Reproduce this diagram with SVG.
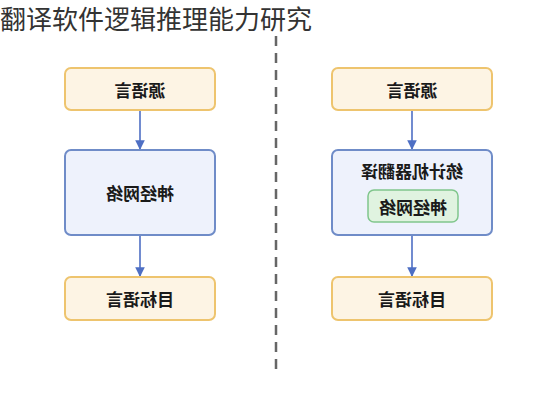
<svg xmlns="http://www.w3.org/2000/svg" width="560" height="400" viewBox="0 0 560 400">
<defs>
<style>
.t{font-family:"Noto Sans CJK SC","Noto Sans",sans-serif;font-size:17px;font-weight:bold;fill:#1a1a1a;text-anchor:middle;dominant-baseline:central}
.lang{fill:#fdf4e4;stroke:#eec46e;stroke-width:2}
.core{fill:#eef2fc;stroke:#6f8cc8;stroke-width:2}
.nn{fill:#e0f3e0;stroke:#80c68c;stroke-width:1.5}
.c{stroke:#4e6fc4;stroke-width:1.6;fill:none}
</style>
<marker id="ah" viewBox="0 0 10 10" refX="9" refY="5" markerWidth="6" markerHeight="6" orient="auto"><path d="M0,0 L10,5 L0,10 z" fill="#4e6fc4"/></marker>
</defs>
<rect width="560" height="400" fill="#fff"/>
<text x="0" y="29" font-family="Noto Sans CJK SC,sans-serif" font-size="26" fill="#333">翻译软件逻辑推理能力研究</text>
<line x1="276" y1="36" x2="276" y2="374" stroke="#666" stroke-width="2.5" stroke-dasharray="10,7"/>
<g id="connectors">
<line class="c" x1="140" y1="110" x2="140" y2="149" marker-end="url(#ah)"/>
<line class="c" x1="140" y1="235" x2="140" y2="276" marker-end="url(#ah)"/>
<line class="c" x1="412" y1="110" x2="412" y2="149" marker-end="url(#ah)"/>
<line class="c" x1="412" y1="235" x2="412" y2="276" marker-end="url(#ah)"/>
</g>
<g id="left-src"><rect class="lang" x="65" y="68" width="150" height="42" rx="6"/><text class="t" transform="translate(140,89) scale(-1,1)">源语言</text></g>
<g id="left-nn"><rect class="core" x="65" y="150" width="150" height="85" rx="6"/><text class="t" transform="translate(140,192) scale(-1,1)">神经网络</text></g>
<g id="left-tgt"><rect class="lang" x="65" y="277" width="150" height="43" rx="6"/><text class="t" transform="translate(140,298) scale(-1,1)">目标语言</text></g>
<g id="right-src"><rect class="lang" x="332" y="68" width="160" height="42" rx="6"/><text class="t" transform="translate(412,89) scale(-1,1)">源语言</text></g>
<g id="right-smt"><rect class="core" x="332" y="150" width="160" height="85" rx="6"/><text class="t" transform="translate(412,170) scale(-1,1)">统计机器翻译</text></g>
<g id="right-nn"><rect class="nn" x="368" y="190" width="90" height="32" rx="6"/><text class="t" transform="translate(413,206) scale(-1,1)">神经网络</text></g>
<g id="right-tgt"><rect class="lang" x="332" y="277" width="160" height="43" rx="6"/><text class="t" transform="translate(412,298) scale(-1,1)">目标语言</text></g>
</svg>
